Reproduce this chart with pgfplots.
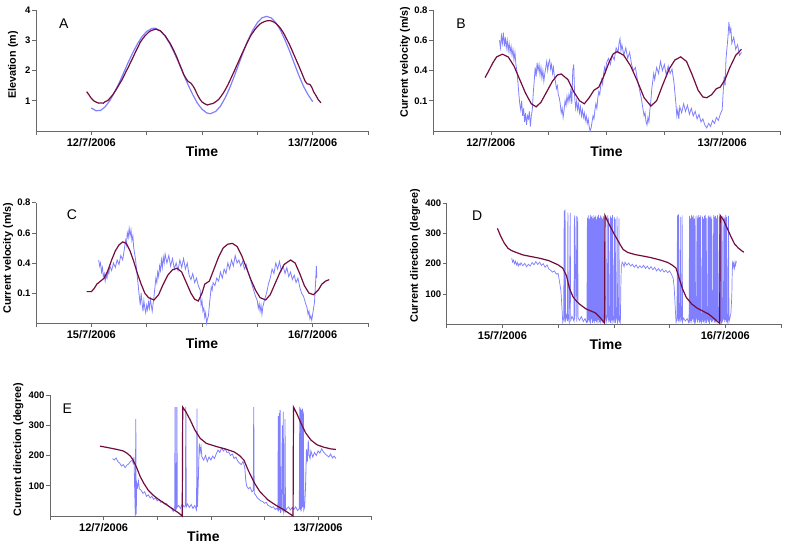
\documentclass[border=0pt]{standalone}
\usepackage{fontspec}
\setmainfont{Liberation Sans}
\usepackage{pgfplots}
\pgfplotsset{compat=1.18}
\definecolor{obsblue}{RGB}{128,128,255}
\definecolor{modred}{RGB}{115,12,62}
\definecolor{axgray}{RGB}{105,105,105}
\pgfplotsset{
  panel/.style={
    scale only axis, clip=false, anchor=south west,
    axis x line*=bottom, axis y line*=left,
    axis line style={axgray, line width=0.8pt, -},
    every tick/.style={axgray, line width=0.6pt},
    tick align=outside, major tick length=4pt,
    xmin=-6, xmax=30, xtick={-6,0,6,12,18,24,30},
    xticklabel style={font=\bfseries\fontsize{11}{12}\selectfont, text=black},
    yticklabel style={font=\bfseries\fontsize{9.5}{11}\selectfont, text=black, xshift=2pt},
    ymin=0,
  },
  obs/.style={obsblue, line width=0.8pt, no markers},
  mod/.style={modred, line width=1.2pt, no markers},
}
\newcommand{\ylab}[3]{\node[rotate=90, font=\bfseries\fontsize{10.8}{12}\selectfont] at ([xshift=-#1pt]rel axis cs:0,#2) {#3};}
\newcommand{\tlab}[1]{\node[font=\bfseries\fontsize{14}{16}\selectfont] at ([yshift=-20pt]rel axis cs:#1,0) {Time};}
\newcommand{\plab}[3]{\node[font=\fontsize{14}{16}\selectfont] at (rel axis cs:#1,#2) {#3};}
\begin{document}
\begin{tikzpicture}
\path[use as bounding box] (0pt,0pt) rectangle (787pt,-546pt);

% ---------------- A ----------------
\begin{axis}[panel, at={(36pt,-131pt)}, width=332pt, height=121pt,
  ymax=4, ytick={1,2,3,4}, yticklabels={1,2,3,4},
  xticklabels={,12/7/2006,,,,13/7/2006,}]
\addplot[obs, line width=1.2pt] coordinates {
(0,0.76)(0.5,0.67)(1,0.68)(1.5,0.80)(2,1.00)(2.5,1.27)(3,1.58)(3.5,1.92)(4,2.27)(4.5,2.59)
(5,2.88)(5.5,3.12)(6,3.29)(6.5,3.38)(6.8,3.40)(7,3.39)(7.5,3.31)(8,3.14)(8.5,2.89)(9,2.58)
(9.5,2.24)(10,1.87)(10.5,1.52)(11,1.20)(11.5,0.92)(12,0.72)(12.5,0.60)(12.9,0.57)(13.5,0.65)
(14,0.82)(14.5,1.09)(15,1.42)(15.5,1.81)(16,2.22)(16.5,2.63)(17,3.01)(17.5,3.33)(18,3.58)
(18.5,3.74)(19,3.79)(19.5,3.74)(20,3.58)(20.5,3.34)(21,3.01)(21.5,2.64)(22,2.24)(22.5,1.84)
(23,1.48)(23.5,1.20)(24,0.97)};
\addplot[mod] coordinates {
(-0.5,1.30)(-0.2,1.17)(0,1.08)(0.3,0.99)(0.5,0.96)(0.8,0.92)(1,0.93)(1.3,0.92)(1.5,0.97)
(1.8,1.01)(2,1.08)(2.3,1.19)(2.5,1.28)(2.8,1.42)(3,1.53)(3.3,1.68)(3.5,1.80)(3.8,1.99)
(4,2.10)(4.3,2.30)(4.5,2.42)(4.8,2.62)(5,2.74)(5.3,2.93)(5.5,3.02)(5.8,3.14)(6,3.20)
(6.3,3.29)(6.5,3.32)(6.8,3.35)(7,3.37)(7.3,3.33)(7.5,3.31)(7.8,3.21)(8,3.15)(8.3,3.01)
(8.5,2.92)(8.8,2.75)(9,2.62)(9.3,2.42)(9.5,2.26)(9.8,2.04)(10,1.88)(10.3,1.72)(10.5,1.64)
(10.8,1.58)(11,1.50)(11.2,1.40)(11.5,1.20)(11.8,1.04)(12,0.96)(12.3,0.90)(12.6,0.86)
(12.9,0.89)(13.2,0.91)(13.5,0.97)(13.8,1.04)(14,1.12)(14.3,1.25)(14.5,1.35)(14.8,1.52)
(15,1.65)(15.3,1.85)(15.5,1.98)(15.8,2.19)(16,2.32)(16.3,2.53)(16.5,2.66)(16.8,2.86)
(17,2.98)(17.3,3.16)(17.5,3.25)(17.8,3.38)(18,3.45)(18.3,3.54)(18.5,3.58)(18.8,3.62)
(19,3.64)(19.3,3.65)(19.5,3.64)(19.8,3.60)(20,3.56)(20.3,3.47)(20.5,3.40)(20.8,3.26)
(21,3.15)(21.3,2.97)(21.5,2.85)(21.8,2.64)(22,2.50)(22.3,2.29)(22.5,2.15)(22.8,1.93)
(23,1.78)(23.2,1.64)(23.4,1.56)(23.7,1.54)(23.9,1.45)(24.1,1.30)(24.4,1.15)(24.6,1.04)
(24.9,0.93)};
\plab{0.084}{0.89}{A}
\ylab{23}{0.545}{Elevation (m)}
\tlab{0.5}
\end{axis}

% ---------------- B ----------------
\begin{axis}[panel, at={(433pt,-131pt)}, width=347pt, height=121pt,
  ymax=0.8, ytick={0.2,0.4,0.6,0.8}, yticklabels={0.1,0.4,0.6,0.8},
  xticklabels={,12/7/2006,,,,13/7/2006,}]
\addplot[obs] coordinates {
(0.9,0.60)(1.0,0.55)(1.1,0.63)(1.2,0.58)(1.3,0.65)(1.4,0.56)(1.5,0.62)(1.6,0.55)(1.7,0.60)
(1.8,0.53)(1.9,0.58)(2.0,0.52)(2.1,0.56)(2.2,0.50)(2.3,0.54)(2.4,0.47)(2.5,0.52)(2.6,0.44)
(2.7,0.40)(2.8,0.33)(2.9,0.25)(3.0,0.18)(3.1,0.14)(3.2,0.20)(3.3,0.10)(3.4,0.15)(3.5,0.06)
(3.6,0.12)(3.7,0.04)(3.8,0.10)(3.9,0.08)(4.0,0.13)(4.1,0.03)(4.2,0.10)(4.3,0.14)(4.4,0.25)
(4.5,0.33)(4.6,0.42)(4.7,0.36)(4.8,0.45)(4.9,0.40)(5.0,0.44)(5.1,0.37)(5.2,0.42)(5.3,0.35)
(5.4,0.40)(5.5,0.33)(5.6,0.38)(5.7,0.42)(5.8,0.46)(5.9,0.40)(6.0,0.45)(6.1,0.47)(6.2,0.41)
(6.3,0.44)(6.4,0.38)(6.5,0.42)(6.6,0.35)(6.7,0.33)(6.8,0.28)(6.9,0.30)(7.0,0.24)(7.1,0.22)
(7.2,0.18)(7.3,0.12)(7.4,0.15)(7.5,0.09)(7.6,0.14)(7.7,0.20)(7.8,0.17)(7.9,0.23)(8.0,0.19)
(8.1,0.24)(8.2,0.20)(8.3,0.28)(8.4,0.18)(8.5,0.40)(8.6,0.44)(8.7,0.22)(8.8,0.15)(8.9,0.20)
(9.0,0.14)(9.1,0.18)(9.2,0.12)(9.3,0.16)(9.4,0.10)(9.5,0.14)(9.6,0.09)(9.7,0.12)(9.8,0.07)
(9.9,0.10)(10.0,0.05)(10.1,0.08)(10.2,0.03)(10.3,0.00)(10.4,0.02)(10.5,0.06)(10.6,0.10)
(10.7,0.08)(10.8,0.14)(10.9,0.18)(11.0,0.15)(11.1,0.22)(11.2,0.26)(11.3,0.24)(11.4,0.30)
(11.5,0.34)(11.6,0.31)(11.7,0.38)(11.8,0.42)(11.9,0.39)(12.0,0.45)(12.2,0.48)(12.4,0.44)
(12.6,0.50)(12.8,0.47)(13.0,0.55)(13.2,0.52)(13.3,0.58)(13.4,0.61)(13.5,0.53)(13.6,0.57)
(13.8,0.50)(14.0,0.55)(14.2,0.48)(14.4,0.52)(14.6,0.44)(14.8,0.40)(15.0,0.42)(15.2,0.34)
(15.4,0.28)(15.6,0.22)(15.8,0.14)(15.9,0.10)(16.0,0.12)(16.1,0.06)(16.2,0.04)(16.3,0.09)
(16.4,0.06)(16.5,0.14)(16.6,0.20)(16.7,0.28)(16.8,0.33)(16.9,0.38)(17.0,0.34)(17.2,0.42)
(17.4,0.38)(17.6,0.46)(17.8,0.40)(18.0,0.44)(18.2,0.37)(18.4,0.43)(18.6,0.38)(18.8,0.41)
(19.0,0.32)(19.1,0.25)(19.2,0.18)(19.3,0.10)(19.4,0.14)(19.5,0.08)(19.6,0.16)(19.8,0.12)
(20.0,0.18)(20.2,0.13)(20.4,0.17)(20.6,0.11)(20.8,0.15)(21.0,0.10)(21.2,0.13)(21.4,0.08)
(21.6,0.11)(21.8,0.06)(22.0,0.08)(22.2,0.04)(22.4,0.02)(22.6,0.05)(22.8,0.03)(23.0,0.07)
(23.2,0.05)(23.4,0.09)(23.6,0.07)(23.8,0.11)(24.0,0.14)(24.1,0.25)(24.2,0.36)(24.3,0.30)
(24.4,0.48)(24.5,0.55)(24.6,0.62)(24.7,0.72)(24.8,0.65)(24.9,0.68)(25.0,0.58)(25.2,0.62)
(25.4,0.54)(25.6,0.57)(25.8,0.50)(26.0,0.52)};
\addplot[mod] coordinates {
(-0.6,0.353)(-0.2,0.40)(0.2,0.45)(0.6,0.49)(1.2,0.508)(1.8,0.49)(2.4,0.43)(3.0,0.34)
(3.6,0.25)(4.2,0.18)(4.7,0.16)(5.2,0.19)(5.8,0.26)(6.4,0.33)(6.9,0.37)(7.3,0.377)(8.0,0.34)
(8.6,0.26)(9.2,0.20)(9.7,0.18)(10.2,0.22)(10.7,0.27)(11.2,0.29)(11.7,0.36)(12.3,0.46)
(12.7,0.51)(13.1,0.525)(13.8,0.50)(14.5,0.43)(15.2,0.33)(15.9,0.22)(16.6,0.165)(17.2,0.20)
(17.8,0.30)(18.5,0.41)(19.1,0.47)(19.7,0.49)(20.3,0.46)(20.9,0.37)(21.5,0.27)(22.0,0.225)
(22.4,0.22)(22.9,0.24)(23.4,0.28)(23.8,0.29)(24.3,0.34)(24.8,0.42)(25.4,0.50)(26,0.54)};
\plab{0.081}{0.89}{B}
\ylab{28}{0.57}{Current velocity (m/s)}
\tlab{0.5}
\end{axis}

% ---------------- C ----------------
\begin{axis}[panel, at={(36pt,-323.3pt)}, width=332pt, height=120.6pt,
  ymax=0.8, ytick={0.2,0.4,0.6,0.8}, yticklabels={0.1,0.4,0.6,0.8},
  xticklabels={,15/7/2006,,,,16/7/2006,}]
\addplot[obs] coordinates {
(0.8,0.42)(0.9,0.38)(1.0,0.40)(1.1,0.34)(1.2,0.37)(1.3,0.31)(1.4,0.33)(1.5,0.28)(1.6,0.32)
(1.7,0.30)(1.8,0.35)(1.9,0.33)(2.0,0.38)(2.2,0.35)(2.4,0.40)(2.6,0.37)(2.8,0.42)(3.0,0.39)
(3.2,0.45)(3.4,0.42)(3.6,0.50)(3.7,0.55)(3.8,0.52)(3.9,0.60)(4.0,0.57)(4.1,0.63)(4.2,0.58)
(4.3,0.62)(4.4,0.55)(4.5,0.58)(4.6,0.50)(4.7,0.46)(4.8,0.42)(4.9,0.36)(5.0,0.30)(5.1,0.24)
(5.2,0.18)(5.3,0.12)(5.4,0.20)(5.5,0.14)(5.6,0.08)(5.7,0.15)(5.8,0.10)(5.9,0.07)(6.0,0.12)
(6.1,0.09)(6.2,0.14)(6.3,0.10)(6.4,0.16)(6.5,0.12)(6.6,0.08)(6.7,0.13)(6.8,0.18)(6.9,0.24)
(7.0,0.30)(7.1,0.27)(7.2,0.34)(7.3,0.31)(7.4,0.38)(7.5,0.35)(7.6,0.42)(7.7,0.37)(7.8,0.44)
(7.9,0.40)(8.0,0.46)(8.2,0.40)(8.4,0.45)(8.6,0.38)(8.8,0.43)(9.0,0.36)(9.2,0.40)(9.4,0.35)
(9.6,0.42)(9.8,0.37)(10.0,0.43)(10.2,0.36)(10.4,0.40)(10.6,0.32)(10.8,0.29)(11.0,0.33)
(11.2,0.27)(11.4,0.30)(11.6,0.25)(11.8,0.22)(11.9,0.12)(12.0,0.15)(12.1,0.08)(12.2,0.10)
(12.3,0.04)(12.4,0.07)(12.5,0.00)(12.6,0.03)(12.7,0.05)(12.8,0.12)(12.9,0.18)(13.0,0.24)
(13.1,0.22)(13.2,0.27)(13.4,0.25)(13.6,0.30)(13.8,0.28)(14.0,0.34)(14.2,0.30)(14.4,0.36)
(14.6,0.33)(14.8,0.40)(15.0,0.36)(15.2,0.42)(15.4,0.38)(15.6,0.45)(15.8,0.40)(16.0,0.42)
(16.2,0.38)(16.4,0.41)(16.6,0.36)(16.8,0.39)(17.0,0.34)(17.2,0.30)(17.4,0.26)(17.6,0.22)
(17.8,0.18)(18.0,0.15)(18.1,0.10)(18.2,0.13)(18.3,0.08)(18.4,0.12)(18.5,0.06)(18.6,0.11)
(18.8,0.16)(19.0,0.20)(19.2,0.26)(19.4,0.30)(19.6,0.36)(19.8,0.33)(20.0,0.40)(20.2,0.36)
(20.4,0.41)(20.6,0.35)(20.8,0.38)(21.0,0.33)(21.2,0.37)(21.4,0.31)(21.6,0.34)(21.8,0.29)
(22.0,0.32)(22.2,0.27)(22.4,0.30)(22.6,0.24)(22.8,0.20)(23.0,0.18)(23.2,0.14)(23.4,0.10)
(23.5,0.06)(23.6,0.08)(23.7,0.03)(23.8,0.05)(23.9,0.02)(24.0,0.06)(24.1,0.10)(24.2,0.14)
(24.3,0.25)(24.4,0.38)(24.45,0.30)};
\addplot[mod] coordinates {
(-0.5,0.21)(0,0.21)(0.3,0.23)(0.6,0.26)(1.0,0.28)(1.4,0.30)(1.8,0.35)(2.2,0.42)(2.6,0.48)
(3.0,0.52)(3.4,0.54)(3.8,0.53)(4.2,0.48)(4.6,0.41)(5.0,0.33)(5.4,0.26)(5.8,0.20)(6.2,0.17)
(6.8,0.155)(7.3,0.19)(7.8,0.26)(8.3,0.32)(8.8,0.355)(9.3,0.365)(9.8,0.34)(10.3,0.27)
(10.8,0.20)(11.2,0.16)(11.6,0.148)(12.0,0.20)(12.3,0.26)(12.8,0.28)(13.3,0.36)(13.8,0.44)
(14.3,0.50)(14.8,0.525)(15.3,0.53)(15.8,0.51)(16.3,0.45)(16.8,0.37)(17.3,0.29)(17.8,0.22)
(18.3,0.17)(18.9,0.155)(19.4,0.19)(19.9,0.26)(20.4,0.33)(20.9,0.39)(21.6,0.42)(22.1,0.40)
(22.6,0.33)(23.1,0.25)(23.6,0.20)(24.1,0.19)(24.6,0.22)(25.0,0.26)(25.4,0.28)(25.8,0.29)};
\plab{0.108}{0.90}{C}
\ylab{28}{0.54}{Current velocity (m/s)}
\tlab{0.5}
\end{axis}

% ---------------- D ----------------
\begin{axis}[panel, at={(446.7pt,-324pt)}, width=334.3pt, height=120.7pt,
  ymax=400, ytick={100,200,300,400}, yticklabels={100,200,300,400},
  xticklabels={,15/7/2006,,,,16/7/2006,}]
\addplot[obs, line width=0.7pt] coordinates {
(1.0,218)(1.1,205)(1.2,212)(1.3,200)(1.4,208)(1.5,196)(1.6,204)(1.7,192)(1.8,200)(1.9,195)
(2.0,203)(2.2,193)(2.4,201)(2.6,190)(2.8,198)(3.0,192)(3.2,204)(3.4,196)(3.6,207)(3.8,197)
(4.0,205)(4.2,194)(4.4,200)(4.6,188)(4.8,196)(5.0,182)(5.2,178)(5.4,172)(5.6,176)(5.8,165)
(6.0,168)(6.1,150)(6.2,130)(6.3,110)(6.4,60)(6.5,5)(6.6,20)(6.65,375)(6.7,8)(6.75,380)
(6.8,15)(6.9,30)(7.0,10)(7.05,370)(7.1,20)(7.2,5)(7.3,368)(7.35,12)(7.5,25)(7.7,10)
(7.75,360)(7.8,15)(7.95,358)(8.0,8)(8.1,355)(8.15,20)(8.3,12)(8.5,25)(8.7,8)(8.9,18)
(9.05,5)(9.10,8)(9.15,352)(9.20,3)(9.25,360)(9.30,12)(9.35,348)(9.40,5)(9.45,362)(9.50,0)
(9.55,355)(9.60,15)(9.65,358)(9.70,4)(9.75,350)(9.80,9)(9.85,361)(9.90,2)(9.95,354)
(10.00,10)(10.05,359)(10.10,6)(10.15,347)(10.20,1)(10.25,357)(10.30,14)(10.35,362)
(10.40,3)(10.45,351)(10.50,7)(10.55,360)(10.60,0)(10.65,356)(10.70,11)(10.75,349)
(10.80,4)(10.85,358)(10.90,8)(10.95,353)(11.00,2)(11.10,20)(11.15,355)(11.20,10)
(11.30,25)(11.35,360)(11.40,5)(11.45,350)(11.50,15)(11.60,8)(11.65,358)(11.70,3)
(11.75,352)(11.80,12)(11.85,361)(11.90,6)(12.00,18)(12.05,355)(12.10,4)(12.15,348)
(12.20,10)(12.30,22)(12.35,357)(12.40,5)(12.50,15)(12.55,350)(12.60,8)(12.70,3)
(12.75,120)(12.8,190)(12.9,205)
(13.0,200)(13.1,190)(13.2,205)(13.4,195)(13.6,202)(13.8,192)(14.0,198)(14.2,188)(14.4,196)
(14.6,185)(14.8,193)(15.0,186)(15.2,195)(15.4,184)(15.6,192)(15.8,182)(16.0,190)(16.2,180)
(16.4,188)(16.6,176)(16.8,184)(17.0,174)(17.2,182)(17.4,172)(17.6,178)(17.8,170)(18.0,176)
(18.2,165)(18.4,150)(18.5,120)(18.6,60)(18.7,5)(18.8,20)(18.85,360)(18.9,10)(18.95,365)
(19.0,5)(19.1,25)(19.15,355)(19.2,10)(19.3,15)(19.35,360)(19.4,8)(19.5,20)(19.7,10)
(19.9,18)(20.05,5)(20.10,12)(20.15,358)(20.20,4)(20.25,350)(20.30,10)(20.35,362)(20.40,2)
(20.45,355)(20.50,15)(20.55,360)(20.60,6)(20.65,348)(20.70,0)(20.75,357)(20.80,9)
(20.90,20)(20.95,359)(21.00,5)(21.05,352)(21.10,13)(21.15,361)(21.20,3)(21.25,354)
(21.30,8)(21.35,360)(21.40,1)(21.50,16)(21.55,356)(21.60,7)(21.65,349)(21.70,2)
(21.75,358)(21.80,11)(21.85,362)(21.90,4)(21.95,351)(22.00,9)(22.10,18)(22.15,357)
(22.20,6)(22.25,360)(22.30,0)(22.35,353)(22.40,12)(22.45,359)(22.50,5)(22.55,348)
(22.60,10)(22.70,15)(22.75,361)(22.80,3)(22.85,355)(22.90,8)(22.95,358)(23.00,2)
(23.05,350)(23.10,14)(23.15,362)(23.20,6)(23.30,12)(23.35,356)(23.40,4)(23.45,360)
(23.50,9)(23.55,352)(23.60,1)(23.65,358)(23.70,11)(23.80,20)(23.85,357)(23.90,5)
(23.95,350)(24.00,13)(24.05,361)(24.10,7)(24.15,355)(24.20,3)(24.30,15)(24.35,358)
(24.40,8)(24.50,20)(24.60,35)(24.70,90)(24.75,180)(24.80,210)(24.85,190)(24.90,200)
(25.00,185)(25.05,205)(25.1,195)(25.2,208)};
\addplot[mod] coordinates {
(-0.54,317)(-0.2,292)(0.2,268)(0.6,251)(1.0,243)(1.5,237)(2.2,229)(3.0,224)(4.0,218)
(5.0,210)(5.5,203)(6.0,196)(6.5,185)(6.9,160)(7.2,120)(7.6,90)(8.0,75)(8.3,66)(9.0,50)
(10.0,37)(10.5,22)(11.0,3)(11.04,360)(11.5,330)(12.0,300)(12.3,284)(12.7,262)(13.0,247)
(13.5,237)(14.3,230)(15.0,226)(16.0,220)(17.0,212)(17.8,204)(18.3,195)(18.7,185)(19.0,155)
(19.4,116)(19.8,88)(20.4,66)(21.0,52)(22.2,33)(22.8,18)(23.4,2)(23.45,360)(23.8,345)
(24.2,318)(24.6,290)(25.0,265)(25.4,252)(25.8,242)(26.0,238)};
\plab{0.091}{0.90}{D}
\ylab{31.7}{0.565}{Current direction (degree)}
\tlab{0.476}
\end{axis}

% ---------------- E ----------------
\begin{axis}[panel, at={(50pt,-516pt)}, width=321.7pt, height=121pt,
  ymax=400, ytick={100,200,300,400}, yticklabels={100,200,300,400},
  xticklabels={,12/7/2006,,,,13/7/2006,}]
\addplot[obs] coordinates {
(1.0,190)(1.2,185)(1.4,192)(1.6,180)(1.8,175)(2.0,165)(2.2,170)(2.4,160)(2.6,168)(2.8,172)
(3.0,180)(3.2,185)(3.3,175)(3.4,195)(3.5,60)(3.55,0)(3.6,320)(3.65,5)(3.7,110)(3.8,95)
(3.9,115)(4.0,90)(4.2,85)(4.4,75)(4.6,80)(4.8,65)(5.0,70)(5.2,60)(5.4,65)(5.6,55)(5.8,60)
(6.0,50)(6.2,55)(6.4,45)(6.6,48)(6.8,40)(7.0,42)(7.2,35)(7.4,30)(7.6,25)(7.8,15)(7.95,30)
(8.0,360)(8.05,20)(8.15,25)(8.2,360)(8.25,30)(8.4,35)(8.6,25)(8.8,40)(9.0,30)(9.15,35)
(9.2,360)(9.25,30)(9.4,40)(9.6,28)(9.8,38)(10.0,25)(10.2,35)(10.4,20)(10.45,355)(10.5,30)
(10.6,120)(10.7,240)(10.8,210)(10.9,230)(11.0,195)(11.2,185)(11.4,200)(11.6,180)(11.8,195)
(12.0,185)(12.2,198)(12.4,190)(12.6,205)(12.8,218)(13.0,210)(13.2,225)(13.4,215)(13.6,222)
(13.8,210)(14.0,212)(14.2,200)(14.4,205)(14.6,190)(14.8,195)(15.0,182)(15.2,175)(15.4,170)
(15.6,180)(15.8,160)(15.9,120)(16.0,100)(16.2,90)(16.4,95)(16.6,80)(16.75,85)(16.8,360)
(16.85,75)(17.0,70)(17.2,60)(17.4,55)(17.6,50)(17.8,48)(18.0,42)(18.2,45)(18.4,35)
(18.6,32)(18.8,28)(19.0,30)(19.2,22)(19.4,25)(19.5,20)(19.55,330)(19.6,15)(19.65,340)
(19.7,20)(19.75,350)(19.8,10)(19.9,25)(20.0,300)(20.05,15)(20.1,345)(20.15,10)(20.25,20)
(20.3,320)(20.35,15)(20.5,25)(20.7,30)(20.9,20)(21.1,28)(21.3,22)(21.5,30)(21.7,18)
(21.9,25)(21.95,360)(22.0,20)(22.05,355)(22.1,15)(22.15,350)(22.2,25)(22.25,355)(22.3,30)
(22.35,345)(22.4,20)(22.5,30)(22.6,100)(22.7,220)(22.8,180)(22.9,250)(23.0,200)(23.1,190)
(23.2,215)(23.4,195)(23.6,210)(23.8,200)(24.0,215)(24.2,208)(24.4,222)(24.6,212)(24.8,205)
(25.0,200)(25.2,195)(25.4,205)(25.6,192)(25.8,198)(26.0,190)};
\addplot[mod] coordinates {
(-0.4,231)(0.5,226)(1.5,220)(2.2,215)(2.6,208)(3.0,198)(3.3,185)(3.7,160)(4.1,130)
(4.5,108)(5.0,85)(5.5,70)(6.0,58)(6.8,42)(7.8,22)(8.4,10)(8.8,0)(8.85,360)(9.2,345)
(9.7,317)(10.2,285)(10.8,257)(11.5,240)(12.7,229)(13.7,221)(14.6,212)(15.2,200)(15.7,185)
(16.2,150)(16.9,108)(17.5,80)(18.4,53)(19.3,35)(20.2,20)(20.8,8)(21.2,0)(21.25,360)
(21.6,340)(22.1,306)(22.6,275)(23.2,251)(23.9,235)(24.7,227)(25.4,222)(26.0,220)};
\plab{0.054}{0.89}{E}
\ylab{31.7}{0.55}{Current direction (degree)}
\tlab{0.477}
\end{axis}
\end{tikzpicture}
\end{document}
